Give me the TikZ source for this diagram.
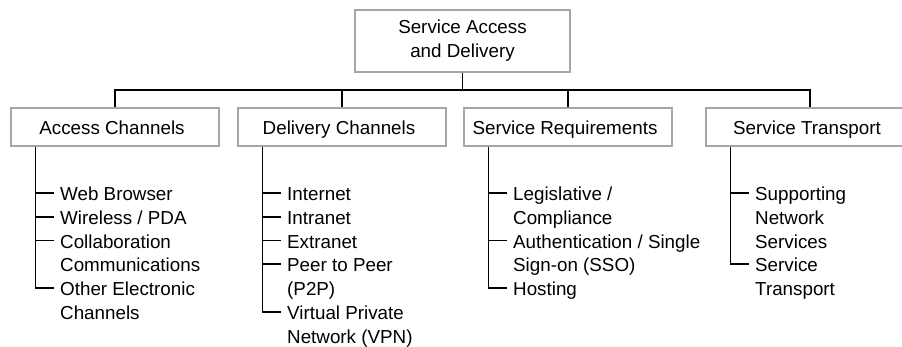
\documentclass[tikz,border=0pt]{standalone}
\usepackage{fontspec}
\setmainfont{Liberation Sans}
\begin{document}
\begin{tikzpicture}[x=1pt,y=-1pt,
  every node/.style={font=\fontsize{18.8}{23.75}\selectfont},
  box/.style={draw=black!35, line width=1.3pt, minimum width=208pt, minimum height=38pt,
    inner sep=0pt, text height=18pt, text depth=3pt},
  topbox/.style={draw=black!35, line width=1.3pt, minimum width=215pt, minimum height=62pt,
    inner sep=0pt, align=center},
  item/.style={anchor=base west, inner xsep=6pt, inner ysep=0pt},
  conn/.style={draw=black, line width=1.6pt},
  tick/.style={conn}]
\clip (0,0) rectangle (902,346);
\fill[white] (0,0) rectangle (902,346);
% boxes
\node[topbox] (top) at (462.5,41) {Service Access\\and Delivery};
\node[box] (ac) at (115,127) {\hspace*{-6pt}Access Channels};
\node[box] (dc) at (342,127) {\hspace*{-6pt}Delivery Channels};
\node[box] (sr) at (568,127) {\hspace*{-6pt}Service Requirements};
\node[box] (st) at (810,127) {\hspace*{-6pt}Service Transport};
\coordinate (bus) at (462.5,90);
% bus
\draw[conn] (top.south) -- (top.south |- bus);
\draw[conn] (ac.north) -- (ac.north |- bus) -- (st.north |- bus) -- (st.north);
\draw[conn] (dc.north) -- (dc.north |- bus);
\draw[conn] (sr.north) -- (sr.north |- bus);
% items
\newcommand{\lines}[1]{\begin{tabular}[t]{@{}l@{}}#1\end{tabular}}
% Access channels
\node[item] (a1) at (54,200.5)   {\lines{Web Browser}};
\node[item] (a2) at (54,224.25)  {\lines{Wireless / PDA}};
\node[item] (a3) at (54,248)     {\lines{Collaboration\\Communications}};
\node[item] (a4) at (54,295.5)   {\lines{Other Electronic\\Channels}};
% Delivery channels
\node[item] (d1) at (281,200.5)  {\lines{Internet}};
\node[item] (d2) at (281,224.25) {\lines{Intranet}};
\node[item] (d3) at (281,248)    {\lines{Extranet}};
\node[item] (d4) at (281,271.75) {\lines{Peer to Peer\\(P2P)}};
\node[item] (d5) at (281,319.25) {\lines{Virtual Private\\Network (VPN)}};
% Service requirements
\node[item] (r1) at (507,200.5)  {\lines{Legislative /\\Compliance}};
\node[item] (r2) at (507,248)    {\lines{Authentication / Single\\Sign-on (SSO)}};
\node[item] (r3) at (507,295.5)  {\lines{Hosting}};
% Service transport
\node[item] (t1) at (749,200.5)  {\lines{Supporting\\Network\\Services}};
\node[item] (t2) at (749,271.75) {\lines{Service\\Transport}};
% branches
\draw[conn] ([xshift=25pt]ac.south west) |- ([yshift=7.5pt]a4.base west);
\foreach \n in {a1,a2,a3}
  \draw[tick] ([yshift=7.5pt]\n.base west) -- ++(-18pt,0pt);
\draw[conn] ([xshift=25pt]dc.south west) |- ([yshift=7.5pt]d5.base west);
\foreach \n in {d1,d2,d3,d4}
  \draw[tick] ([yshift=7.5pt]\n.base west) -- ++(-18pt,0pt);
\draw[conn] ([xshift=25pt]sr.south west) |- ([yshift=7.5pt]r3.base west);
\foreach \n in {r1,r2}
  \draw[tick] ([yshift=7.5pt]\n.base west) -- ++(-18pt,0pt);
\draw[conn] ([xshift=25pt]st.south west) |- ([yshift=7.5pt]t2.base west);
\foreach \n in {t1}
  \draw[tick] ([yshift=7.5pt]\n.base west) -- ++(-18pt,0pt);
\end{tikzpicture}
\end{document}
